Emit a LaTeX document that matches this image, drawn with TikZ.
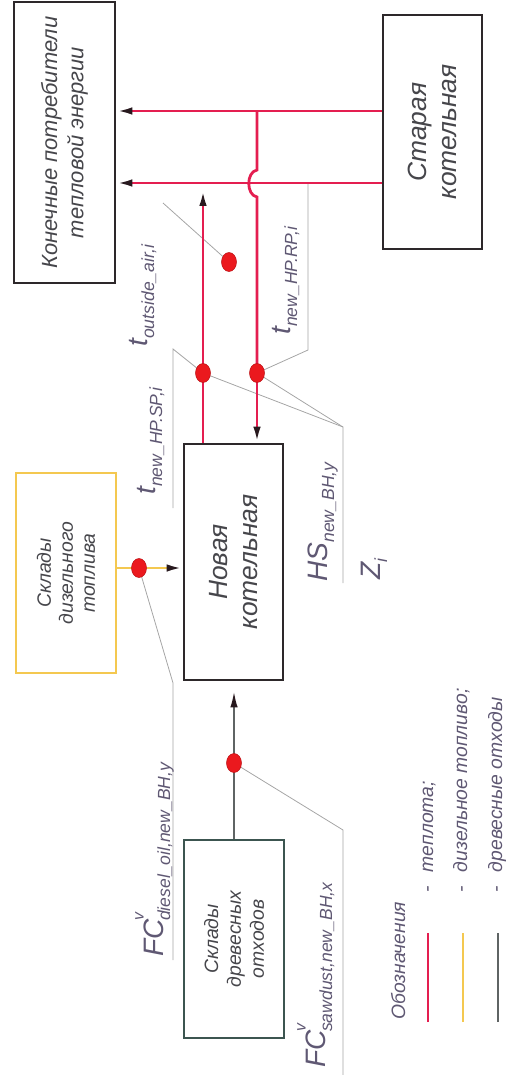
\documentclass[tikz,border=0pt]{standalone}
\usepackage{fontspec}
\setmainfont{Liberation Sans}
\usetikzlibrary{arrows.meta,shapes.geometric}
\definecolor{heat}{RGB}{228,30,80}
\definecolor{diesel}{RGB}{244,200,80}
\definecolor{woodl}{RGB}{95,100,100}
\definecolor{woodbox}{RGB}{60,85,80}
\definecolor{boxc}{RGB}{45,40,42}
\definecolor{tipc}{RGB}{40,25,30}
\definecolor{dotc}{RGB}{235,25,30}
\definecolor{leadc}{RGB}{165,165,165}
\definecolor{txtc}{RGB}{70,70,75}
\definecolor{labc}{RGB}{95,88,115}
\newcommand{\lbl}[2]{{\fontsize{16}{18}\selectfont #1}\raisebox{-4pt}{\fontsize{10}{12}\selectfont #2}}
\newcommand{\lblv}[3]{{\fontsize{16}{18}\selectfont #1}\kern-1pt\rlap{\raisebox{11pt}{\fontsize{9}{10}\selectfont #2}}\raisebox{-4pt}{\fontsize{10}{12}\selectfont #3}}
\begin{document}
\begin{tikzpicture}[x=0.02cm,y=-0.02cm,font=\itshape,
  box/.style={draw=boxc,line width=1.6pt,inner sep=0pt},
  txt/.style={rotate=90,align=center,text=txtc,inner sep=0pt},
  heatln/.style={draw=heat,line width=1.6pt},
  dieselln/.style={draw=diesel,line width=1.6pt},
  woodln/.style={draw=woodl,line width=1.1pt},
  tip/.style={-{Latex[length=3.2mm,width=1.5mm,color=tipc]}},
  lead/.style={draw=leadc,line width=0.45pt},
  dot/.style={ellipse,fill=dotc,draw=dotc!80!black,line width=0.3pt,inner sep=0pt,minimum width=0.3cm,minimum height=0.38cm},
  lab/.style={rotate=90,anchor=base west,inner sep=0pt,text=labc}]
\useasboundingbox (0,0) rectangle (507,1075);
% boxes
\node[box,minimum width=2.02cm,minimum height=5.62cm] (cons) at (64.5,142.5) {};
\node[box,minimum width=1.98cm,minimum height=4.68cm] (old) at (432.5,132) {};
\node[box,minimum width=1.98cm,minimum height=4.72cm] (newb) at (233.5,562) {};
\node[box,draw=diesel,minimum width=2.0cm,minimum height=4.0cm] (dbox) at (66,573) {};
\node[box,draw=woodbox,line width=1.3pt,minimum width=2.0cm,minimum height=3.96cm] (wbox) at (234,939) {};
% box texts
\node[txt,font=\itshape\fontsize{12.5}{15}\selectfont] (consT) at (cons.center) {Конечные потребители\\тепловой энергии};
\node[txt,font=\itshape\fontsize{15}{17}\selectfont] (oldT) at (old.center) {Старая\\котельная};
\node[txt,font=\itshape\fontsize{15}{17}\selectfont] (newT) at (newb.center) {Новая\\котельная};
\node[txt,font=\itshape\fontsize{11}{12.5}\selectfont] (dT) at (dbox.center) {Склады\\дизельного\\топлива};
\node[txt,font=\itshape\fontsize{11}{13}\selectfont] (wT) at (wbox.center) {Склады\\древесных\\отходов};
% coordinates
\coordinate (j1) at (257,111);
\coordinate (j2) at (203,183);
\coordinate (b1) at (257,170);
\coordinate (b2) at (257,197);
\coordinate (sp) at (203,373);
\coordinate (rp) at (257,373);
\coordinate (oa) at (229,262);
\coordinate (dd) at (139,568);
\coordinate (wd) at (234,763);
% leaders
\coordinate (L1) at (163,203);
\coordinate (L2) at (173,349);
\coordinate (L2b) at (173,508);
\coordinate (L3) at (308,350);
\coordinate (L3b) at (308,183);
\coordinate (L4) at (343,427);
\coordinate (L4b) at (343,583);
\coordinate (L5) at (173,683);
\coordinate (L5b) at (173,960);
\coordinate (L6) at (343,830);
\coordinate (L6b) at (343,1075);
\draw[lead] (oa) -- (L1);
\draw[lead] (sp) -- (L2) -- (L2b);
\draw[lead] (rp) -- (L3) -- (L3b);
\draw[lead] (sp) -- (L4);
\draw[lead] (rp) -- (L4) -- (L4b);
\draw[lead] (dd) -- (L5) -- (L5b);
\draw[lead] (wd) -- (L6) -- (L6b);
% heat lines
\draw[heatln,tip] (old.west |- j1) -- (cons.east |- j1);
\draw[heatln,tip] (old.west |- j2) -- (cons.east |- j2);
\draw[heatln] (j1) -- (b1) .. controls (246,172) and (246,195) .. (b2) -- (rp);
\draw[heatln,tip] (rp) -- (newb.north -| rp);
\draw[heatln] (newb.north -| sp) -- (sp);
\draw[heatln,tip,shorten >=1.4mm] (sp) -- (j2);
% diesel and wood lines
\draw[dieselln] (dbox.east |- dd) -- (dd);
\draw[dieselln,tip] (dd) -- (newb.west |- dd);
\draw[woodln] (wbox.north) -- (wd);
\draw[woodln,tip,shorten >=2mm] (wd) -- (newb.south -| wd);
% dots
\node[dot] (spD) at (sp) {};
\node[dot] (rpD) at (rp) {};
\node[dot] (oaD) at (oa) {};
\node[dot] (ddD) at (dd) {};
\node[dot] (wdD) at (wd) {};
% labels
\node[lab] (tOA) at (147,347) {\lbl{t}{outside\_air,i}};
\node[lab] (tSP) at (155,495) {\lbl{t}{new\_HP.SP,i}};
\node[lab] (tRP) at (290,335) {\lbl{t}{new\_HP.RP,i}};
\node[lab] (HS) at (327,582) {\lbl{HS}{new\_BH,y}};
\node[lab] (Zi) at (380,580) {\lbl{Z}{i}};
\node[lab] (FCd) at (163,957) {\lblv{FC}{v}{diesel\_oil,new\_BH,y}};
\node[lab] (FCw) at (325,1068) {\lblv{FC}{v}{sawdust,new\_BH,x}};
% legend
\node[lab,font=\itshape\fontsize{11}{13}\selectfont] (legT) at (405,1020) {Обозначения};
\coordinate (g1a) at (428,1022); \coordinate (g1b) at (428,933);
\coordinate (g2a) at (463,1022); \coordinate (g2b) at (463,933);
\coordinate (g3a) at (498,1022); \coordinate (g3b) at (498,933);
\draw[heatln,line width=1.3pt] (g1a) -- (g1b);
\draw[dieselln,line width=1.3pt] (g2a) -- (g2b);
\draw[woodln] (g3a) -- (g3b);
\node[lab,font=\itshape\fontsize{11}{13}\selectfont] (leg1) at (433,893) {-\hspace{8pt}теплота;};
\node[lab,font=\itshape\fontsize{11}{13}\selectfont] (leg2) at (467,893) {-\hspace{8pt}дизельное топливо;};
\node[lab,font=\itshape\fontsize{11}{13}\selectfont] (leg3) at (502,893) {-\hspace{8pt}древесные отходы};
\end{tikzpicture}
\end{document}
